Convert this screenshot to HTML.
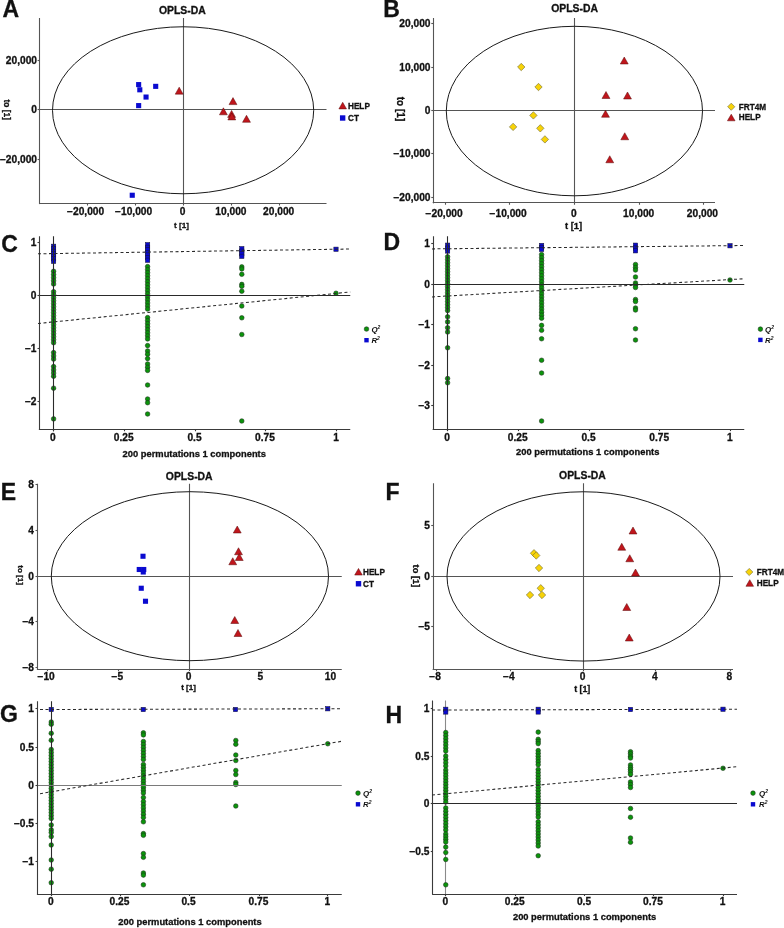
<!DOCTYPE html>
<html><head><meta charset="utf-8"><title>OPLS-DA figure</title>
<style>
html,body{margin:0;padding:0;background:#fff;}
body{width:784px;height:928px;overflow:hidden;}
svg{display:block;will-change:transform;filter:blur(0.3px);}
svg text{font-family:"Liberation Sans", sans-serif;font-weight:bold;fill:#111;stroke:#111;stroke-width:0.3px;}
</style></head><body>
<svg width="784" height="928" viewBox="0 0 784 928">
<rect width="784" height="928" fill="#fff"/>
<line x1="39.50" y1="18.00" x2="39.50" y2="204.10" stroke="#555" stroke-width="1.1"/>
<line x1="39.00" y1="203.50" x2="326.50" y2="203.50" stroke="#555" stroke-width="1.1"/>
<line x1="39.60" y1="109.50" x2="326.50" y2="109.50" stroke="#555" stroke-width="1.1"/>
<line x1="183.50" y1="18.00" x2="183.50" y2="203.50" stroke="#555" stroke-width="1.1"/>
<line x1="37.60" y1="60.50" x2="39.60" y2="60.50" stroke="#555" stroke-width="1.1"/>
<text x="37.00" y="63.65" font-size="10.2" text-anchor="end">20,000</text>
<line x1="37.60" y1="109.50" x2="39.60" y2="109.50" stroke="#555" stroke-width="1.1"/>
<text x="37.00" y="113.15" font-size="10.2" text-anchor="end">0</text>
<line x1="37.60" y1="159.50" x2="39.60" y2="159.50" stroke="#555" stroke-width="1.1"/>
<text x="37.00" y="163.15" font-size="10.2" text-anchor="end">−20,000</text>
<line x1="87.50" y1="203.50" x2="87.50" y2="205.50" stroke="#555" stroke-width="1.1"/>
<text x="85.60" y="215.15" font-size="10.2" text-anchor="middle">−20,000</text>
<line x1="135.50" y1="203.50" x2="135.50" y2="205.50" stroke="#555" stroke-width="1.1"/>
<text x="133.60" y="215.15" font-size="10.2" text-anchor="middle">−10,000</text>
<line x1="183.50" y1="203.50" x2="183.50" y2="205.50" stroke="#555" stroke-width="1.1"/>
<text x="182.70" y="215.15" font-size="10.2" text-anchor="middle">0</text>
<line x1="231.50" y1="203.50" x2="231.50" y2="205.50" stroke="#555" stroke-width="1.1"/>
<text x="230.90" y="215.15" font-size="10.2" text-anchor="middle">10,000</text>
<line x1="279.50" y1="203.50" x2="279.50" y2="205.50" stroke="#555" stroke-width="1.1"/>
<text x="278.70" y="215.15" font-size="10.2" text-anchor="middle">20,000</text>
<ellipse cx="183.1" cy="110.27" rx="130.6" ry="83.5" fill="none" stroke="#1a1a1a" stroke-width="1"/>
<text x="182.30" y="14.27" font-size="10.4" text-anchor="middle">OPLS-DA</text>
<text transform="translate(6.87,109.75) rotate(90)" font-size="8.4" text-anchor="middle" y="3">to [1]</text>
<text x="181.45" y="228.24" font-size="8.1" text-anchor="middle">t [1]</text>
<rect x="136.10" y="82.05" width="5.1" height="5.1" fill="#0a0ad0"/>
<rect x="137.25" y="87.25" width="5.1" height="5.1" fill="#0a0ad0"/>
<rect x="143.50" y="94.50" width="5.1" height="5.1" fill="#0a0ad0"/>
<rect x="153.15" y="83.80" width="5.1" height="5.1" fill="#0a0ad0"/>
<rect x="136.10" y="103.05" width="5.1" height="5.1" fill="#0a0ad0"/>
<rect x="129.70" y="192.70" width="5.1" height="5.1" fill="#0a0ad0"/>
<polygon points="179.20,87.15 175.25,94.15 183.15,94.15" fill="#c0161c" stroke="#5a0808" stroke-width="0.5"/>
<polygon points="233.00,97.60 229.05,104.60 236.95,104.60" fill="#c0161c" stroke="#5a0808" stroke-width="0.5"/>
<polygon points="223.40,107.80 219.45,114.80 227.35,114.80" fill="#c0161c" stroke="#5a0808" stroke-width="0.5"/>
<polygon points="231.60,110.40 227.65,117.40 235.55,117.40" fill="#c0161c" stroke="#5a0808" stroke-width="0.5"/>
<polygon points="231.80,112.90 227.85,119.90 235.75,119.90" fill="#c0161c" stroke="#5a0808" stroke-width="0.5"/>
<polygon points="246.50,115.30 242.55,122.30 250.45,122.30" fill="#c0161c" stroke="#5a0808" stroke-width="0.5"/>
<polygon points="342.70,102.30 338.90,108.90 346.50,108.90" fill="#c0161c" stroke="#5a0808" stroke-width="0.5"/>
<text x="348.00" y="108.54" font-size="8.2" text-anchor="start">HELP</text>
<rect x="339.95" y="115.30" width="5.4" height="5.4" fill="#0a0ad0"/>
<text x="348.00" y="120.94" font-size="8.2" text-anchor="start">CT</text>
<text x="2.40" y="16.90" font-size="23" text-anchor="start">A</text>
<line x1="433.50" y1="18.00" x2="433.50" y2="203.35" stroke="#555" stroke-width="1.1"/>
<line x1="432.70" y1="202.50" x2="715.00" y2="202.50" stroke="#555" stroke-width="1.1"/>
<line x1="433.30" y1="110.50" x2="715.00" y2="110.50" stroke="#555" stroke-width="1.1"/>
<line x1="574.50" y1="18.00" x2="574.50" y2="202.75" stroke="#555" stroke-width="1.1"/>
<line x1="431.30" y1="23.50" x2="433.30" y2="23.50" stroke="#555" stroke-width="1.1"/>
<text x="430.50" y="27.40" font-size="10.2" text-anchor="end">20,000</text>
<line x1="431.30" y1="67.50" x2="433.30" y2="67.50" stroke="#555" stroke-width="1.1"/>
<text x="430.50" y="70.65" font-size="10.2" text-anchor="end">10,000</text>
<line x1="431.30" y1="110.50" x2="433.30" y2="110.50" stroke="#555" stroke-width="1.1"/>
<text x="430.50" y="114.05" font-size="10.2" text-anchor="end">0</text>
<line x1="431.30" y1="153.50" x2="433.30" y2="153.50" stroke="#555" stroke-width="1.1"/>
<text x="430.50" y="157.40" font-size="10.2" text-anchor="end">−10,000</text>
<line x1="431.30" y1="197.50" x2="433.30" y2="197.50" stroke="#555" stroke-width="1.1"/>
<text x="430.50" y="201.15" font-size="10.2" text-anchor="end">−20,000</text>
<line x1="445.50" y1="202.75" x2="445.50" y2="204.75" stroke="#555" stroke-width="1.1"/>
<text x="444.10" y="217.40" font-size="10.2" text-anchor="middle">−20,000</text>
<line x1="509.50" y1="202.75" x2="509.50" y2="204.75" stroke="#555" stroke-width="1.1"/>
<text x="508.10" y="217.40" font-size="10.2" text-anchor="middle">−10,000</text>
<line x1="574.50" y1="202.75" x2="574.50" y2="204.75" stroke="#555" stroke-width="1.1"/>
<text x="573.80" y="217.40" font-size="10.2" text-anchor="middle">0</text>
<line x1="639.50" y1="202.75" x2="639.50" y2="204.75" stroke="#555" stroke-width="1.1"/>
<text x="638.65" y="217.40" font-size="10.2" text-anchor="middle">10,000</text>
<line x1="703.50" y1="202.75" x2="703.50" y2="204.75" stroke="#555" stroke-width="1.1"/>
<text x="702.40" y="217.40" font-size="10.2" text-anchor="middle">20,000</text>
<ellipse cx="574.4" cy="111.05" rx="128.1" ry="84.75" fill="none" stroke="#1a1a1a" stroke-width="1"/>
<text x="574.60" y="12.02" font-size="10.4" text-anchor="middle">OPLS-DA</text>
<text transform="translate(399.55,109) rotate(90)" font-size="10.0" text-anchor="middle" y="3">to [1]</text>
<text x="573.50" y="228.53" font-size="9.4" text-anchor="middle">t [1]</text>
<polygon points="521.25,63.30 524.95,67.00 521.25,70.70 517.55,67.00" fill="#f7d308" stroke="#6e6a3a" stroke-width="0.6"/>
<polygon points="538.50,83.30 542.20,87.00 538.50,90.70 534.80,87.00" fill="#f7d308" stroke="#6e6a3a" stroke-width="0.6"/>
<polygon points="533.40,111.70 537.10,115.40 533.40,119.10 529.70,115.40" fill="#f7d308" stroke="#6e6a3a" stroke-width="0.6"/>
<polygon points="513.10,123.20 516.80,126.90 513.10,130.60 509.40,126.90" fill="#f7d308" stroke="#6e6a3a" stroke-width="0.6"/>
<polygon points="540.30,124.60 544.00,128.30 540.30,132.00 536.60,128.30" fill="#f7d308" stroke="#6e6a3a" stroke-width="0.6"/>
<polygon points="544.90,135.70 548.60,139.40 544.90,143.10 541.20,139.40" fill="#f7d308" stroke="#6e6a3a" stroke-width="0.6"/>
<polygon points="624.25,57.00 620.30,64.00 628.20,64.00" fill="#c0161c" stroke="#5a0808" stroke-width="0.5"/>
<polygon points="606.00,91.50 602.05,98.50 609.95,98.50" fill="#c0161c" stroke="#5a0808" stroke-width="0.5"/>
<polygon points="627.50,92.00 623.55,99.00 631.45,99.00" fill="#c0161c" stroke="#5a0808" stroke-width="0.5"/>
<polygon points="605.50,110.25 601.55,117.25 609.45,117.25" fill="#c0161c" stroke="#5a0808" stroke-width="0.5"/>
<polygon points="624.75,132.75 620.80,139.75 628.70,139.75" fill="#c0161c" stroke="#5a0808" stroke-width="0.5"/>
<polygon points="609.75,155.75 605.80,162.75 613.70,162.75" fill="#c0161c" stroke="#5a0808" stroke-width="0.5"/>
<polygon points="731.25,103.15 734.85,106.75 731.25,110.35 727.65,106.75" fill="#f7d308" stroke="#6e6a3a" stroke-width="0.6"/>
<text x="738.75" y="109.69" font-size="8.2" text-anchor="start">FRT4M</text>
<polygon points="731.25,114.20 727.45,120.80 735.05,120.80" fill="#c0161c" stroke="#5a0808" stroke-width="0.5"/>
<text x="738.75" y="120.44" font-size="8.2" text-anchor="start">HELP</text>
<text x="383.30" y="16.80" font-size="23" text-anchor="start">B</text>
<line x1="37.50" y1="483.75" x2="37.50" y2="669.60" stroke="#555" stroke-width="1.1"/>
<line x1="36.90" y1="669.50" x2="341.75" y2="669.50" stroke="#555" stroke-width="1.1"/>
<line x1="37.50" y1="576.50" x2="341.75" y2="576.50" stroke="#555" stroke-width="1.1"/>
<line x1="189.50" y1="483.75" x2="189.50" y2="669.00" stroke="#555" stroke-width="1.1"/>
<line x1="35.50" y1="484.50" x2="37.50" y2="484.50" stroke="#555" stroke-width="1.1"/>
<text x="34.00" y="487.90" font-size="10.2" text-anchor="end">8</text>
<line x1="35.50" y1="530.50" x2="37.50" y2="530.50" stroke="#555" stroke-width="1.1"/>
<text x="34.00" y="534.15" font-size="10.2" text-anchor="end">4</text>
<line x1="35.50" y1="576.50" x2="37.50" y2="576.50" stroke="#555" stroke-width="1.1"/>
<text x="34.00" y="579.65" font-size="10.2" text-anchor="end">0</text>
<line x1="35.50" y1="621.50" x2="37.50" y2="621.50" stroke="#555" stroke-width="1.1"/>
<text x="34.00" y="625.40" font-size="10.2" text-anchor="end">−4</text>
<line x1="35.50" y1="667.50" x2="37.50" y2="667.50" stroke="#555" stroke-width="1.1"/>
<text x="34.00" y="671.15" font-size="10.2" text-anchor="end">−8</text>
<line x1="47.50" y1="669.00" x2="47.50" y2="671.00" stroke="#555" stroke-width="1.1"/>
<text x="46.10" y="679.90" font-size="10.2" text-anchor="middle">−10</text>
<line x1="118.50" y1="669.00" x2="118.50" y2="671.00" stroke="#555" stroke-width="1.1"/>
<text x="117.35" y="679.90" font-size="10.2" text-anchor="middle">−5</text>
<line x1="189.50" y1="669.00" x2="189.50" y2="671.00" stroke="#555" stroke-width="1.1"/>
<text x="188.70" y="679.90" font-size="10.2" text-anchor="middle">0</text>
<line x1="261.50" y1="669.00" x2="261.50" y2="671.00" stroke="#555" stroke-width="1.1"/>
<text x="260.40" y="679.90" font-size="10.2" text-anchor="middle">5</text>
<line x1="331.50" y1="669.00" x2="331.50" y2="671.00" stroke="#555" stroke-width="1.1"/>
<text x="330.40" y="679.90" font-size="10.2" text-anchor="middle">10</text>
<ellipse cx="189.9" cy="576.2" rx="138.6" ry="84.5" fill="none" stroke="#1a1a1a" stroke-width="1"/>
<text x="189.25" y="479.62" font-size="10.4" text-anchor="middle">OPLS-DA</text>
<text transform="translate(20.94,575.1) rotate(90)" font-size="8.1" text-anchor="middle" y="3">to [1]</text>
<text x="188.55" y="690.16" font-size="8.0" text-anchor="middle">t [1]</text>
<rect x="140.45" y="553.70" width="5.1" height="5.1" fill="#0a0ad0"/>
<rect x="136.70" y="566.95" width="5.1" height="5.1" fill="#0a0ad0"/>
<rect x="141.20" y="566.95" width="5.1" height="5.1" fill="#0a0ad0"/>
<rect x="140.70" y="569.45" width="5.1" height="5.1" fill="#0a0ad0"/>
<rect x="138.70" y="585.70" width="5.1" height="5.1" fill="#0a0ad0"/>
<rect x="142.95" y="598.70" width="5.1" height="5.1" fill="#0a0ad0"/>
<polygon points="237.25,526.00 233.30,533.00 241.20,533.00" fill="#c0161c" stroke="#5a0808" stroke-width="0.5"/>
<polygon points="238.50,547.75 234.55,554.75 242.45,554.75" fill="#c0161c" stroke="#5a0808" stroke-width="0.5"/>
<polygon points="239.25,553.50 235.30,560.50 243.20,560.50" fill="#c0161c" stroke="#5a0808" stroke-width="0.5"/>
<polygon points="232.75,557.75 228.80,564.75 236.70,564.75" fill="#c0161c" stroke="#5a0808" stroke-width="0.5"/>
<polygon points="234.75,616.50 230.80,623.50 238.70,623.50" fill="#c0161c" stroke="#5a0808" stroke-width="0.5"/>
<polygon points="238.00,629.50 234.05,636.50 241.95,636.50" fill="#c0161c" stroke="#5a0808" stroke-width="0.5"/>
<polygon points="358.50,568.45 354.70,575.05 362.30,575.05" fill="#c0161c" stroke="#5a0808" stroke-width="0.5"/>
<text x="363.00" y="574.69" font-size="8.2" text-anchor="start">HELP</text>
<rect x="355.80" y="581.05" width="5.4" height="5.4" fill="#0a0ad0"/>
<text x="363.00" y="586.69" font-size="8.2" text-anchor="start">CT</text>
<text x="0.80" y="500.00" font-size="23" text-anchor="start">E</text>
<line x1="433.50" y1="483.25" x2="433.50" y2="669.85" stroke="#555" stroke-width="1.1"/>
<line x1="432.65" y1="669.50" x2="733.00" y2="669.50" stroke="#555" stroke-width="1.1"/>
<line x1="433.25" y1="576.50" x2="733.00" y2="576.50" stroke="#555" stroke-width="1.1"/>
<line x1="583.50" y1="483.25" x2="583.50" y2="669.25" stroke="#555" stroke-width="1.1"/>
<line x1="431.25" y1="525.50" x2="433.25" y2="525.50" stroke="#555" stroke-width="1.1"/>
<text x="430.00" y="528.65" font-size="10.2" text-anchor="end">5</text>
<line x1="431.25" y1="576.50" x2="433.25" y2="576.50" stroke="#555" stroke-width="1.1"/>
<text x="430.00" y="579.65" font-size="10.2" text-anchor="end">0</text>
<line x1="431.25" y1="626.50" x2="433.25" y2="626.50" stroke="#555" stroke-width="1.1"/>
<text x="430.00" y="630.40" font-size="10.2" text-anchor="end">−5</text>
<line x1="436.50" y1="669.25" x2="436.50" y2="671.25" stroke="#555" stroke-width="1.1"/>
<text x="435.10" y="679.90" font-size="10.2" text-anchor="middle">−8</text>
<line x1="510.50" y1="669.25" x2="510.50" y2="671.25" stroke="#555" stroke-width="1.1"/>
<text x="508.85" y="679.90" font-size="10.2" text-anchor="middle">−4</text>
<line x1="583.50" y1="669.25" x2="583.50" y2="671.25" stroke="#555" stroke-width="1.1"/>
<text x="582.65" y="679.90" font-size="10.2" text-anchor="middle">0</text>
<line x1="655.50" y1="669.25" x2="655.50" y2="671.25" stroke="#555" stroke-width="1.1"/>
<text x="654.90" y="679.90" font-size="10.2" text-anchor="middle">4</text>
<line x1="730.50" y1="669.25" x2="730.50" y2="671.25" stroke="#555" stroke-width="1.1"/>
<text x="729.40" y="679.90" font-size="10.2" text-anchor="middle">8</text>
<ellipse cx="583.5" cy="576.4" rx="136.5" ry="84.65" fill="none" stroke="#1a1a1a" stroke-width="1"/>
<text x="582.50" y="479.12" font-size="10.4" text-anchor="middle">OPLS-DA</text>
<text transform="translate(415.93,575.9) rotate(90)" font-size="9.3" text-anchor="middle" y="3">to [1]</text>
<text x="582.20" y="691.77" font-size="8.8" text-anchor="middle">t [1]</text>
<polygon points="534.00,549.55 537.70,553.25 534.00,556.95 530.30,553.25" fill="#f7d308" stroke="#6e6a3a" stroke-width="0.6"/>
<polygon points="536.25,551.80 539.95,555.50 536.25,559.20 532.55,555.50" fill="#f7d308" stroke="#6e6a3a" stroke-width="0.6"/>
<polygon points="539.00,564.30 542.70,568.00 539.00,571.70 535.30,568.00" fill="#f7d308" stroke="#6e6a3a" stroke-width="0.6"/>
<polygon points="540.75,584.55 544.45,588.25 540.75,591.95 537.05,588.25" fill="#f7d308" stroke="#6e6a3a" stroke-width="0.6"/>
<polygon points="530.00,591.30 533.70,595.00 530.00,598.70 526.30,595.00" fill="#f7d308" stroke="#6e6a3a" stroke-width="0.6"/>
<polygon points="542.00,591.30 545.70,595.00 542.00,598.70 538.30,595.00" fill="#f7d308" stroke="#6e6a3a" stroke-width="0.6"/>
<polygon points="633.00,527.00 629.05,534.00 636.95,534.00" fill="#c0161c" stroke="#5a0808" stroke-width="0.5"/>
<polygon points="621.75,543.25 617.80,550.25 625.70,550.25" fill="#c0161c" stroke="#5a0808" stroke-width="0.5"/>
<polygon points="629.75,554.75 625.80,561.75 633.70,561.75" fill="#c0161c" stroke="#5a0808" stroke-width="0.5"/>
<polygon points="635.50,569.00 631.55,576.00 639.45,576.00" fill="#c0161c" stroke="#5a0808" stroke-width="0.5"/>
<polygon points="626.75,603.50 622.80,610.50 630.70,610.50" fill="#c0161c" stroke="#5a0808" stroke-width="0.5"/>
<polygon points="629.25,634.00 625.30,641.00 633.20,641.00" fill="#c0161c" stroke="#5a0808" stroke-width="0.5"/>
<polygon points="749.25,568.40 752.85,572.00 749.25,575.60 745.65,572.00" fill="#f7d308" stroke="#6e6a3a" stroke-width="0.6"/>
<text x="756.75" y="574.94" font-size="8.2" text-anchor="start">FRT4M</text>
<polygon points="749.75,579.70 745.95,586.30 753.55,586.30" fill="#c0161c" stroke="#5a0808" stroke-width="0.5"/>
<text x="756.75" y="585.94" font-size="8.2" text-anchor="start">HELP</text>
<text x="385.40" y="500.00" font-size="23" text-anchor="start">F</text>
<circle cx="53.60" cy="271.30" r="2.3" fill="#0b940b" stroke="#1e2e1e" stroke-width="0.55"/>
<circle cx="53.60" cy="274.48" r="2.3" fill="#0b940b" stroke="#1e2e1e" stroke-width="0.55"/>
<circle cx="53.60" cy="277.65" r="2.3" fill="#0b940b" stroke="#1e2e1e" stroke-width="0.55"/>
<circle cx="53.60" cy="280.82" r="2.3" fill="#0b940b" stroke="#1e2e1e" stroke-width="0.55"/>
<circle cx="53.60" cy="284.00" r="2.3" fill="#0b940b" stroke="#1e2e1e" stroke-width="0.55"/>
<circle cx="53.60" cy="291.70" r="2.3" fill="#0b940b" stroke="#1e2e1e" stroke-width="0.55"/>
<circle cx="53.60" cy="294.70" r="2.3" fill="#0b940b" stroke="#1e2e1e" stroke-width="0.55"/>
<circle cx="53.60" cy="297.70" r="2.3" fill="#0b940b" stroke="#1e2e1e" stroke-width="0.55"/>
<circle cx="53.60" cy="300.70" r="2.3" fill="#0b940b" stroke="#1e2e1e" stroke-width="0.55"/>
<circle cx="53.60" cy="303.70" r="2.3" fill="#0b940b" stroke="#1e2e1e" stroke-width="0.55"/>
<circle cx="53.60" cy="306.70" r="2.3" fill="#0b940b" stroke="#1e2e1e" stroke-width="0.55"/>
<circle cx="53.60" cy="309.70" r="2.3" fill="#0b940b" stroke="#1e2e1e" stroke-width="0.55"/>
<circle cx="53.60" cy="312.70" r="2.3" fill="#0b940b" stroke="#1e2e1e" stroke-width="0.55"/>
<circle cx="53.60" cy="315.70" r="2.3" fill="#0b940b" stroke="#1e2e1e" stroke-width="0.55"/>
<circle cx="53.60" cy="318.70" r="2.3" fill="#0b940b" stroke="#1e2e1e" stroke-width="0.55"/>
<circle cx="53.60" cy="321.70" r="2.3" fill="#0b940b" stroke="#1e2e1e" stroke-width="0.55"/>
<circle cx="53.60" cy="324.70" r="2.3" fill="#0b940b" stroke="#1e2e1e" stroke-width="0.55"/>
<circle cx="53.60" cy="327.70" r="2.3" fill="#0b940b" stroke="#1e2e1e" stroke-width="0.55"/>
<circle cx="53.60" cy="330.70" r="2.3" fill="#0b940b" stroke="#1e2e1e" stroke-width="0.55"/>
<circle cx="53.60" cy="333.70" r="2.3" fill="#0b940b" stroke="#1e2e1e" stroke-width="0.55"/>
<circle cx="53.60" cy="336.70" r="2.3" fill="#0b940b" stroke="#1e2e1e" stroke-width="0.55"/>
<circle cx="53.60" cy="339.70" r="2.3" fill="#0b940b" stroke="#1e2e1e" stroke-width="0.55"/>
<circle cx="53.60" cy="342.70" r="2.3" fill="#0b940b" stroke="#1e2e1e" stroke-width="0.55"/>
<circle cx="53.60" cy="352.60" r="2.3" fill="#0b940b" stroke="#1e2e1e" stroke-width="0.55"/>
<circle cx="53.60" cy="355.90" r="2.3" fill="#0b940b" stroke="#1e2e1e" stroke-width="0.55"/>
<circle cx="53.60" cy="359.10" r="2.3" fill="#0b940b" stroke="#1e2e1e" stroke-width="0.55"/>
<circle cx="53.60" cy="366.60" r="2.3" fill="#0b940b" stroke="#1e2e1e" stroke-width="0.55"/>
<circle cx="53.60" cy="369.90" r="2.3" fill="#0b940b" stroke="#1e2e1e" stroke-width="0.55"/>
<circle cx="53.60" cy="373.10" r="2.3" fill="#0b940b" stroke="#1e2e1e" stroke-width="0.55"/>
<circle cx="53.60" cy="376.30" r="2.3" fill="#0b940b" stroke="#1e2e1e" stroke-width="0.55"/>
<circle cx="53.60" cy="388.20" r="2.3" fill="#0b940b" stroke="#1e2e1e" stroke-width="0.55"/>
<circle cx="53.60" cy="418.90" r="2.3" fill="#0b940b" stroke="#1e2e1e" stroke-width="0.55"/>
<circle cx="147.60" cy="266.60" r="2.3" fill="#0b940b" stroke="#1e2e1e" stroke-width="0.55"/>
<circle cx="147.60" cy="269.63" r="2.3" fill="#0b940b" stroke="#1e2e1e" stroke-width="0.55"/>
<circle cx="147.60" cy="272.66" r="2.3" fill="#0b940b" stroke="#1e2e1e" stroke-width="0.55"/>
<circle cx="147.60" cy="275.69" r="2.3" fill="#0b940b" stroke="#1e2e1e" stroke-width="0.55"/>
<circle cx="147.60" cy="278.71" r="2.3" fill="#0b940b" stroke="#1e2e1e" stroke-width="0.55"/>
<circle cx="147.60" cy="281.74" r="2.3" fill="#0b940b" stroke="#1e2e1e" stroke-width="0.55"/>
<circle cx="147.60" cy="284.77" r="2.3" fill="#0b940b" stroke="#1e2e1e" stroke-width="0.55"/>
<circle cx="147.60" cy="287.80" r="2.3" fill="#0b940b" stroke="#1e2e1e" stroke-width="0.55"/>
<circle cx="147.60" cy="290.83" r="2.3" fill="#0b940b" stroke="#1e2e1e" stroke-width="0.55"/>
<circle cx="147.60" cy="293.86" r="2.3" fill="#0b940b" stroke="#1e2e1e" stroke-width="0.55"/>
<circle cx="147.60" cy="296.89" r="2.3" fill="#0b940b" stroke="#1e2e1e" stroke-width="0.55"/>
<circle cx="147.60" cy="299.91" r="2.3" fill="#0b940b" stroke="#1e2e1e" stroke-width="0.55"/>
<circle cx="147.60" cy="302.94" r="2.3" fill="#0b940b" stroke="#1e2e1e" stroke-width="0.55"/>
<circle cx="147.60" cy="305.97" r="2.3" fill="#0b940b" stroke="#1e2e1e" stroke-width="0.55"/>
<circle cx="147.60" cy="309.00" r="2.3" fill="#0b940b" stroke="#1e2e1e" stroke-width="0.55"/>
<circle cx="147.60" cy="317.60" r="2.3" fill="#0b940b" stroke="#1e2e1e" stroke-width="0.55"/>
<circle cx="147.60" cy="320.64" r="2.3" fill="#0b940b" stroke="#1e2e1e" stroke-width="0.55"/>
<circle cx="147.60" cy="323.69" r="2.3" fill="#0b940b" stroke="#1e2e1e" stroke-width="0.55"/>
<circle cx="147.60" cy="326.73" r="2.3" fill="#0b940b" stroke="#1e2e1e" stroke-width="0.55"/>
<circle cx="147.60" cy="329.77" r="2.3" fill="#0b940b" stroke="#1e2e1e" stroke-width="0.55"/>
<circle cx="147.60" cy="332.81" r="2.3" fill="#0b940b" stroke="#1e2e1e" stroke-width="0.55"/>
<circle cx="147.60" cy="335.86" r="2.3" fill="#0b940b" stroke="#1e2e1e" stroke-width="0.55"/>
<circle cx="147.60" cy="338.90" r="2.3" fill="#0b940b" stroke="#1e2e1e" stroke-width="0.55"/>
<circle cx="147.60" cy="345.60" r="2.3" fill="#0b940b" stroke="#1e2e1e" stroke-width="0.55"/>
<circle cx="147.60" cy="351.00" r="2.3" fill="#0b940b" stroke="#1e2e1e" stroke-width="0.55"/>
<circle cx="147.60" cy="354.20" r="2.3" fill="#0b940b" stroke="#1e2e1e" stroke-width="0.55"/>
<circle cx="147.60" cy="358.60" r="2.3" fill="#0b940b" stroke="#1e2e1e" stroke-width="0.55"/>
<circle cx="147.60" cy="364.00" r="2.3" fill="#0b940b" stroke="#1e2e1e" stroke-width="0.55"/>
<circle cx="147.60" cy="367.20" r="2.3" fill="#0b940b" stroke="#1e2e1e" stroke-width="0.55"/>
<circle cx="147.60" cy="370.40" r="2.3" fill="#0b940b" stroke="#1e2e1e" stroke-width="0.55"/>
<circle cx="147.60" cy="385.00" r="2.3" fill="#0b940b" stroke="#1e2e1e" stroke-width="0.55"/>
<circle cx="147.60" cy="399.00" r="2.3" fill="#0b940b" stroke="#1e2e1e" stroke-width="0.55"/>
<circle cx="147.60" cy="402.70" r="2.3" fill="#0b940b" stroke="#1e2e1e" stroke-width="0.55"/>
<circle cx="147.60" cy="414.00" r="2.3" fill="#0b940b" stroke="#1e2e1e" stroke-width="0.55"/>
<circle cx="241.80" cy="266.90" r="2.3" fill="#0b940b" stroke="#1e2e1e" stroke-width="0.55"/>
<circle cx="241.80" cy="268.90" r="2.3" fill="#0b940b" stroke="#1e2e1e" stroke-width="0.55"/>
<circle cx="241.80" cy="274.30" r="2.3" fill="#0b940b" stroke="#1e2e1e" stroke-width="0.55"/>
<circle cx="241.80" cy="284.40" r="2.3" fill="#0b940b" stroke="#1e2e1e" stroke-width="0.55"/>
<circle cx="241.80" cy="286.30" r="2.3" fill="#0b940b" stroke="#1e2e1e" stroke-width="0.55"/>
<circle cx="241.80" cy="291.20" r="2.3" fill="#0b940b" stroke="#1e2e1e" stroke-width="0.55"/>
<circle cx="241.80" cy="306.00" r="2.3" fill="#0b940b" stroke="#1e2e1e" stroke-width="0.55"/>
<circle cx="241.80" cy="317.80" r="2.3" fill="#0b940b" stroke="#1e2e1e" stroke-width="0.55"/>
<circle cx="241.80" cy="334.50" r="2.3" fill="#0b940b" stroke="#1e2e1e" stroke-width="0.55"/>
<circle cx="241.80" cy="421.00" r="2.3" fill="#0b940b" stroke="#1e2e1e" stroke-width="0.55"/>
<circle cx="336.00" cy="293.25" r="2.3" fill="#0b940b" stroke="#1e2e1e" stroke-width="0.55"/>
<rect x="51.45" y="244.15" width="4.3" height="4.3" fill="#0a0ad0" stroke="#14143c" stroke-width="0.55"/>
<rect x="51.45" y="246.65" width="4.3" height="4.3" fill="#0a0ad0" stroke="#14143c" stroke-width="0.55"/>
<rect x="51.45" y="249.15" width="4.3" height="4.3" fill="#0a0ad0" stroke="#14143c" stroke-width="0.55"/>
<rect x="51.45" y="251.65" width="4.3" height="4.3" fill="#0a0ad0" stroke="#14143c" stroke-width="0.55"/>
<rect x="51.45" y="254.15" width="4.3" height="4.3" fill="#0a0ad0" stroke="#14143c" stroke-width="0.55"/>
<rect x="51.45" y="256.65" width="4.3" height="4.3" fill="#0a0ad0" stroke="#14143c" stroke-width="0.55"/>
<rect x="51.45" y="259.15" width="4.3" height="4.3" fill="#0a0ad0" stroke="#14143c" stroke-width="0.55"/>
<rect x="145.45" y="242.55" width="4.3" height="4.3" fill="#0a0ad0" stroke="#14143c" stroke-width="0.55"/>
<rect x="145.45" y="245.13" width="4.3" height="4.3" fill="#0a0ad0" stroke="#14143c" stroke-width="0.55"/>
<rect x="145.45" y="247.72" width="4.3" height="4.3" fill="#0a0ad0" stroke="#14143c" stroke-width="0.55"/>
<rect x="145.45" y="250.30" width="4.3" height="4.3" fill="#0a0ad0" stroke="#14143c" stroke-width="0.55"/>
<rect x="145.45" y="252.88" width="4.3" height="4.3" fill="#0a0ad0" stroke="#14143c" stroke-width="0.55"/>
<rect x="145.45" y="255.47" width="4.3" height="4.3" fill="#0a0ad0" stroke="#14143c" stroke-width="0.55"/>
<rect x="145.45" y="258.05" width="4.3" height="4.3" fill="#0a0ad0" stroke="#14143c" stroke-width="0.55"/>
<rect x="239.65" y="246.55" width="4.3" height="4.3" fill="#0a0ad0" stroke="#14143c" stroke-width="0.55"/>
<rect x="239.65" y="249.08" width="4.3" height="4.3" fill="#0a0ad0" stroke="#14143c" stroke-width="0.55"/>
<rect x="239.65" y="251.62" width="4.3" height="4.3" fill="#0a0ad0" stroke="#14143c" stroke-width="0.55"/>
<rect x="239.65" y="254.15" width="4.3" height="4.3" fill="#0a0ad0" stroke="#14143c" stroke-width="0.55"/>
<rect x="333.85" y="247.10" width="4.3" height="4.3" fill="#0a0ad0" stroke="#14143c" stroke-width="0.55"/>
<line x1="53.50" y1="236.25" x2="53.50" y2="431.25" stroke="#2a2a2a" stroke-width="1.1"/>
<line x1="39.50" y1="295.50" x2="350.25" y2="295.50" stroke="#2a2a2a" stroke-width="1.1"/>
<line x1="39.50" y1="236.25" x2="39.50" y2="429.85" stroke="#3a3a3a" stroke-width="1.1"/>
<line x1="38.90" y1="429.50" x2="350.25" y2="429.50" stroke="#3a3a3a" stroke-width="1.1"/>
<line x1="37.50" y1="242.50" x2="39.50" y2="242.50" stroke="#3a3a3a" stroke-width="1.1"/>
<text x="36.50" y="246.15" font-size="10.2" text-anchor="end">1</text>
<line x1="37.50" y1="295.50" x2="39.50" y2="295.50" stroke="#3a3a3a" stroke-width="1.1"/>
<text x="36.50" y="299.25" font-size="10.2" text-anchor="end">0</text>
<line x1="37.50" y1="348.50" x2="39.50" y2="348.50" stroke="#3a3a3a" stroke-width="1.1"/>
<text x="36.50" y="352.15" font-size="10.2" text-anchor="end">−1</text>
<line x1="37.50" y1="401.50" x2="39.50" y2="401.50" stroke="#3a3a3a" stroke-width="1.1"/>
<text x="36.50" y="405.40" font-size="10.2" text-anchor="end">−2</text>
<line x1="53.50" y1="429.25" x2="53.50" y2="431.25" stroke="#3a3a3a" stroke-width="1.1"/>
<text x="52.75" y="440.90" font-size="10.2" text-anchor="middle">0</text>
<line x1="124.50" y1="429.25" x2="124.50" y2="431.25" stroke="#3a3a3a" stroke-width="1.1"/>
<text x="123.75" y="440.90" font-size="10.2" text-anchor="middle">0.25</text>
<line x1="195.50" y1="429.25" x2="195.50" y2="431.25" stroke="#3a3a3a" stroke-width="1.1"/>
<text x="194.50" y="440.90" font-size="10.2" text-anchor="middle">0.5</text>
<line x1="265.50" y1="429.25" x2="265.50" y2="431.25" stroke="#3a3a3a" stroke-width="1.1"/>
<text x="265.00" y="440.90" font-size="10.2" text-anchor="middle">0.75</text>
<line x1="336.50" y1="429.25" x2="336.50" y2="431.25" stroke="#3a3a3a" stroke-width="1.1"/>
<text x="336.00" y="440.90" font-size="10.2" text-anchor="middle">1</text>
<text x="194.25" y="457.35" font-size="9.35" text-anchor="middle">200 permutations 1 components</text>
<line x1="38.00" y1="253.80" x2="350.25" y2="249.00" stroke="#2a2a2a" stroke-width="1.05" stroke-dasharray="3.0,2.5"/>
<line x1="38.00" y1="323.50" x2="350.25" y2="292.00" stroke="#2a2a2a" stroke-width="1.05" stroke-dasharray="3.0,2.5"/>
<circle cx="366.50" cy="329.05" r="2.3" fill="#0b940b" stroke="#1e2e1e" stroke-width="0.55"/>
<rect x="364.30" y="338.00" width="4.4" height="4.4" fill="#0a0ad0"/>
<text x="371.40" y="331.88" font-size="7.9" text-anchor="start" style="font-style:italic;stroke-width:0">Q<tspan font-size="5" dy="-2.9" style="stroke-width:0">2</tspan></text>
<text x="371.40" y="343.03" font-size="7.9" text-anchor="start" style="font-style:italic;stroke-width:0">R<tspan font-size="5" dy="-2.9" style="stroke-width:0">2</tspan></text>
<text x="1.20" y="251.60" font-size="23" text-anchor="start">C</text>
<circle cx="447.60" cy="256.70" r="2.3" fill="#0b940b" stroke="#1e2e1e" stroke-width="0.55"/>
<circle cx="447.60" cy="259.69" r="2.3" fill="#0b940b" stroke="#1e2e1e" stroke-width="0.55"/>
<circle cx="447.60" cy="262.69" r="2.3" fill="#0b940b" stroke="#1e2e1e" stroke-width="0.55"/>
<circle cx="447.60" cy="265.68" r="2.3" fill="#0b940b" stroke="#1e2e1e" stroke-width="0.55"/>
<circle cx="447.60" cy="268.68" r="2.3" fill="#0b940b" stroke="#1e2e1e" stroke-width="0.55"/>
<circle cx="447.60" cy="271.67" r="2.3" fill="#0b940b" stroke="#1e2e1e" stroke-width="0.55"/>
<circle cx="447.60" cy="274.67" r="2.3" fill="#0b940b" stroke="#1e2e1e" stroke-width="0.55"/>
<circle cx="447.60" cy="277.66" r="2.3" fill="#0b940b" stroke="#1e2e1e" stroke-width="0.55"/>
<circle cx="447.60" cy="280.66" r="2.3" fill="#0b940b" stroke="#1e2e1e" stroke-width="0.55"/>
<circle cx="447.60" cy="283.65" r="2.3" fill="#0b940b" stroke="#1e2e1e" stroke-width="0.55"/>
<circle cx="447.60" cy="286.64" r="2.3" fill="#0b940b" stroke="#1e2e1e" stroke-width="0.55"/>
<circle cx="447.60" cy="289.64" r="2.3" fill="#0b940b" stroke="#1e2e1e" stroke-width="0.55"/>
<circle cx="447.60" cy="292.63" r="2.3" fill="#0b940b" stroke="#1e2e1e" stroke-width="0.55"/>
<circle cx="447.60" cy="295.63" r="2.3" fill="#0b940b" stroke="#1e2e1e" stroke-width="0.55"/>
<circle cx="447.60" cy="298.62" r="2.3" fill="#0b940b" stroke="#1e2e1e" stroke-width="0.55"/>
<circle cx="447.60" cy="301.62" r="2.3" fill="#0b940b" stroke="#1e2e1e" stroke-width="0.55"/>
<circle cx="447.60" cy="304.61" r="2.3" fill="#0b940b" stroke="#1e2e1e" stroke-width="0.55"/>
<circle cx="447.60" cy="307.61" r="2.3" fill="#0b940b" stroke="#1e2e1e" stroke-width="0.55"/>
<circle cx="447.60" cy="310.60" r="2.3" fill="#0b940b" stroke="#1e2e1e" stroke-width="0.55"/>
<circle cx="447.60" cy="316.80" r="2.3" fill="#0b940b" stroke="#1e2e1e" stroke-width="0.55"/>
<circle cx="447.60" cy="321.90" r="2.3" fill="#0b940b" stroke="#1e2e1e" stroke-width="0.55"/>
<circle cx="447.60" cy="327.70" r="2.3" fill="#0b940b" stroke="#1e2e1e" stroke-width="0.55"/>
<circle cx="447.60" cy="332.00" r="2.3" fill="#0b940b" stroke="#1e2e1e" stroke-width="0.55"/>
<circle cx="447.60" cy="347.75" r="2.3" fill="#0b940b" stroke="#1e2e1e" stroke-width="0.55"/>
<circle cx="447.60" cy="378.50" r="2.3" fill="#0b940b" stroke="#1e2e1e" stroke-width="0.55"/>
<circle cx="447.60" cy="382.75" r="2.3" fill="#0b940b" stroke="#1e2e1e" stroke-width="0.55"/>
<circle cx="541.60" cy="254.60" r="2.3" fill="#0b940b" stroke="#1e2e1e" stroke-width="0.55"/>
<circle cx="541.60" cy="257.63" r="2.3" fill="#0b940b" stroke="#1e2e1e" stroke-width="0.55"/>
<circle cx="541.60" cy="260.66" r="2.3" fill="#0b940b" stroke="#1e2e1e" stroke-width="0.55"/>
<circle cx="541.60" cy="263.69" r="2.3" fill="#0b940b" stroke="#1e2e1e" stroke-width="0.55"/>
<circle cx="541.60" cy="266.71" r="2.3" fill="#0b940b" stroke="#1e2e1e" stroke-width="0.55"/>
<circle cx="541.60" cy="269.74" r="2.3" fill="#0b940b" stroke="#1e2e1e" stroke-width="0.55"/>
<circle cx="541.60" cy="272.77" r="2.3" fill="#0b940b" stroke="#1e2e1e" stroke-width="0.55"/>
<circle cx="541.60" cy="275.80" r="2.3" fill="#0b940b" stroke="#1e2e1e" stroke-width="0.55"/>
<circle cx="541.60" cy="278.83" r="2.3" fill="#0b940b" stroke="#1e2e1e" stroke-width="0.55"/>
<circle cx="541.60" cy="281.86" r="2.3" fill="#0b940b" stroke="#1e2e1e" stroke-width="0.55"/>
<circle cx="541.60" cy="284.89" r="2.3" fill="#0b940b" stroke="#1e2e1e" stroke-width="0.55"/>
<circle cx="541.60" cy="287.91" r="2.3" fill="#0b940b" stroke="#1e2e1e" stroke-width="0.55"/>
<circle cx="541.60" cy="290.94" r="2.3" fill="#0b940b" stroke="#1e2e1e" stroke-width="0.55"/>
<circle cx="541.60" cy="293.97" r="2.3" fill="#0b940b" stroke="#1e2e1e" stroke-width="0.55"/>
<circle cx="541.60" cy="297.00" r="2.3" fill="#0b940b" stroke="#1e2e1e" stroke-width="0.55"/>
<circle cx="541.60" cy="300.03" r="2.3" fill="#0b940b" stroke="#1e2e1e" stroke-width="0.55"/>
<circle cx="541.60" cy="303.06" r="2.3" fill="#0b940b" stroke="#1e2e1e" stroke-width="0.55"/>
<circle cx="541.60" cy="306.09" r="2.3" fill="#0b940b" stroke="#1e2e1e" stroke-width="0.55"/>
<circle cx="541.60" cy="309.11" r="2.3" fill="#0b940b" stroke="#1e2e1e" stroke-width="0.55"/>
<circle cx="541.60" cy="312.14" r="2.3" fill="#0b940b" stroke="#1e2e1e" stroke-width="0.55"/>
<circle cx="541.60" cy="315.17" r="2.3" fill="#0b940b" stroke="#1e2e1e" stroke-width="0.55"/>
<circle cx="541.60" cy="318.20" r="2.3" fill="#0b940b" stroke="#1e2e1e" stroke-width="0.55"/>
<circle cx="541.60" cy="325.40" r="2.3" fill="#0b940b" stroke="#1e2e1e" stroke-width="0.55"/>
<circle cx="541.60" cy="330.30" r="2.3" fill="#0b940b" stroke="#1e2e1e" stroke-width="0.55"/>
<circle cx="541.60" cy="338.75" r="2.3" fill="#0b940b" stroke="#1e2e1e" stroke-width="0.55"/>
<circle cx="541.60" cy="360.25" r="2.3" fill="#0b940b" stroke="#1e2e1e" stroke-width="0.55"/>
<circle cx="541.60" cy="373.00" r="2.3" fill="#0b940b" stroke="#1e2e1e" stroke-width="0.55"/>
<circle cx="541.60" cy="421.00" r="2.3" fill="#0b940b" stroke="#1e2e1e" stroke-width="0.55"/>
<circle cx="635.50" cy="264.50" r="2.3" fill="#0b940b" stroke="#1e2e1e" stroke-width="0.55"/>
<circle cx="635.50" cy="267.50" r="2.3" fill="#0b940b" stroke="#1e2e1e" stroke-width="0.55"/>
<circle cx="635.50" cy="270.00" r="2.3" fill="#0b940b" stroke="#1e2e1e" stroke-width="0.55"/>
<circle cx="635.50" cy="277.00" r="2.3" fill="#0b940b" stroke="#1e2e1e" stroke-width="0.55"/>
<circle cx="635.50" cy="283.00" r="2.3" fill="#0b940b" stroke="#1e2e1e" stroke-width="0.55"/>
<circle cx="635.50" cy="285.00" r="2.3" fill="#0b940b" stroke="#1e2e1e" stroke-width="0.55"/>
<circle cx="635.50" cy="287.50" r="2.3" fill="#0b940b" stroke="#1e2e1e" stroke-width="0.55"/>
<circle cx="635.50" cy="299.50" r="2.3" fill="#0b940b" stroke="#1e2e1e" stroke-width="0.55"/>
<circle cx="635.50" cy="301.50" r="2.3" fill="#0b940b" stroke="#1e2e1e" stroke-width="0.55"/>
<circle cx="635.50" cy="308.00" r="2.3" fill="#0b940b" stroke="#1e2e1e" stroke-width="0.55"/>
<circle cx="635.50" cy="310.00" r="2.3" fill="#0b940b" stroke="#1e2e1e" stroke-width="0.55"/>
<circle cx="635.50" cy="328.75" r="2.3" fill="#0b940b" stroke="#1e2e1e" stroke-width="0.55"/>
<circle cx="635.50" cy="340.00" r="2.3" fill="#0b940b" stroke="#1e2e1e" stroke-width="0.55"/>
<circle cx="730.00" cy="280.00" r="2.3" fill="#0b940b" stroke="#1e2e1e" stroke-width="0.55"/>
<rect x="445.45" y="243.05" width="4.3" height="4.3" fill="#0a0ad0" stroke="#14143c" stroke-width="0.55"/>
<rect x="445.45" y="245.95" width="4.3" height="4.3" fill="#0a0ad0" stroke="#14143c" stroke-width="0.55"/>
<rect x="445.45" y="248.85" width="4.3" height="4.3" fill="#0a0ad0" stroke="#14143c" stroke-width="0.55"/>
<rect x="539.45" y="243.35" width="4.3" height="4.3" fill="#0a0ad0" stroke="#14143c" stroke-width="0.55"/>
<rect x="539.45" y="245.30" width="4.3" height="4.3" fill="#0a0ad0" stroke="#14143c" stroke-width="0.55"/>
<rect x="539.45" y="247.25" width="4.3" height="4.3" fill="#0a0ad0" stroke="#14143c" stroke-width="0.55"/>
<rect x="633.35" y="243.05" width="4.3" height="4.3" fill="#0a0ad0" stroke="#14143c" stroke-width="0.55"/>
<rect x="633.35" y="245.85" width="4.3" height="4.3" fill="#0a0ad0" stroke="#14143c" stroke-width="0.55"/>
<rect x="633.35" y="248.65" width="4.3" height="4.3" fill="#0a0ad0" stroke="#14143c" stroke-width="0.55"/>
<rect x="727.85" y="243.60" width="4.3" height="4.3" fill="#0a0ad0" stroke="#14143c" stroke-width="0.55"/>
<line x1="447.50" y1="236.25" x2="447.50" y2="431.10" stroke="#2a2a2a" stroke-width="1.1"/>
<line x1="433.25" y1="284.50" x2="744.25" y2="284.50" stroke="#2a2a2a" stroke-width="1.1"/>
<line x1="433.50" y1="236.25" x2="433.50" y2="429.70" stroke="#3a3a3a" stroke-width="1.1"/>
<line x1="432.65" y1="429.50" x2="744.25" y2="429.50" stroke="#3a3a3a" stroke-width="1.1"/>
<line x1="431.25" y1="243.50" x2="433.25" y2="243.50" stroke="#3a3a3a" stroke-width="1.1"/>
<text x="430.00" y="247.40" font-size="10.2" text-anchor="end">1</text>
<line x1="431.25" y1="284.50" x2="433.25" y2="284.50" stroke="#3a3a3a" stroke-width="1.1"/>
<text x="430.00" y="287.90" font-size="10.2" text-anchor="end">0</text>
<line x1="431.25" y1="324.50" x2="433.25" y2="324.50" stroke="#3a3a3a" stroke-width="1.1"/>
<text x="430.00" y="328.40" font-size="10.2" text-anchor="end">−1</text>
<line x1="431.25" y1="365.50" x2="433.25" y2="365.50" stroke="#3a3a3a" stroke-width="1.1"/>
<text x="430.00" y="368.90" font-size="10.2" text-anchor="end">−2</text>
<line x1="431.25" y1="405.50" x2="433.25" y2="405.50" stroke="#3a3a3a" stroke-width="1.1"/>
<text x="430.00" y="409.40" font-size="10.2" text-anchor="end">−3</text>
<line x1="447.50" y1="429.10" x2="447.50" y2="431.10" stroke="#3a3a3a" stroke-width="1.1"/>
<text x="447.10" y="440.90" font-size="10.2" text-anchor="middle">0</text>
<line x1="518.50" y1="429.10" x2="518.50" y2="431.10" stroke="#3a3a3a" stroke-width="1.1"/>
<text x="517.75" y="440.90" font-size="10.2" text-anchor="middle">0.25</text>
<line x1="589.50" y1="429.10" x2="589.50" y2="431.10" stroke="#3a3a3a" stroke-width="1.1"/>
<text x="588.50" y="440.90" font-size="10.2" text-anchor="middle">0.5</text>
<line x1="659.50" y1="429.10" x2="659.50" y2="431.10" stroke="#3a3a3a" stroke-width="1.1"/>
<text x="659.25" y="440.90" font-size="10.2" text-anchor="middle">0.75</text>
<line x1="730.50" y1="429.10" x2="730.50" y2="431.10" stroke="#3a3a3a" stroke-width="1.1"/>
<text x="729.80" y="440.90" font-size="10.2" text-anchor="middle">1</text>
<text x="587.75" y="454.85" font-size="9.35" text-anchor="middle">200 permutations 1 components</text>
<line x1="432.00" y1="248.90" x2="744.25" y2="245.50" stroke="#2a2a2a" stroke-width="1.05" stroke-dasharray="3.0,2.5"/>
<line x1="432.00" y1="296.90" x2="744.25" y2="278.75" stroke="#2a2a2a" stroke-width="1.05" stroke-dasharray="3.0,2.5"/>
<circle cx="760.40" cy="329.10" r="2.3" fill="#0b940b" stroke="#1e2e1e" stroke-width="0.55"/>
<rect x="758.20" y="337.70" width="4.4" height="4.4" fill="#0a0ad0"/>
<text x="765.00" y="331.93" font-size="7.9" text-anchor="start" style="font-style:italic;stroke-width:0">Q<tspan font-size="5" dy="-2.9" style="stroke-width:0">2</tspan></text>
<text x="765.00" y="342.73" font-size="7.9" text-anchor="start" style="font-style:italic;stroke-width:0">R<tspan font-size="5" dy="-2.9" style="stroke-width:0">2</tspan></text>
<text x="383.50" y="250.30" font-size="23" text-anchor="start">D</text>
<circle cx="51.25" cy="722.00" r="2.3" fill="#0b940b" stroke="#1e2e1e" stroke-width="0.55"/>
<circle cx="51.25" cy="724.20" r="2.3" fill="#0b940b" stroke="#1e2e1e" stroke-width="0.55"/>
<circle cx="51.25" cy="733.30" r="2.3" fill="#0b940b" stroke="#1e2e1e" stroke-width="0.55"/>
<circle cx="51.25" cy="740.30" r="2.3" fill="#0b940b" stroke="#1e2e1e" stroke-width="0.55"/>
<circle cx="51.25" cy="749.50" r="2.3" fill="#0b940b" stroke="#1e2e1e" stroke-width="0.55"/>
<circle cx="51.25" cy="752.50" r="2.3" fill="#0b940b" stroke="#1e2e1e" stroke-width="0.55"/>
<circle cx="51.25" cy="755.50" r="2.3" fill="#0b940b" stroke="#1e2e1e" stroke-width="0.55"/>
<circle cx="51.25" cy="758.50" r="2.3" fill="#0b940b" stroke="#1e2e1e" stroke-width="0.55"/>
<circle cx="51.25" cy="761.50" r="2.3" fill="#0b940b" stroke="#1e2e1e" stroke-width="0.55"/>
<circle cx="51.25" cy="764.50" r="2.3" fill="#0b940b" stroke="#1e2e1e" stroke-width="0.55"/>
<circle cx="51.25" cy="767.50" r="2.3" fill="#0b940b" stroke="#1e2e1e" stroke-width="0.55"/>
<circle cx="51.25" cy="770.50" r="2.3" fill="#0b940b" stroke="#1e2e1e" stroke-width="0.55"/>
<circle cx="51.25" cy="773.50" r="2.3" fill="#0b940b" stroke="#1e2e1e" stroke-width="0.55"/>
<circle cx="51.25" cy="776.50" r="2.3" fill="#0b940b" stroke="#1e2e1e" stroke-width="0.55"/>
<circle cx="51.25" cy="779.50" r="2.3" fill="#0b940b" stroke="#1e2e1e" stroke-width="0.55"/>
<circle cx="51.25" cy="782.50" r="2.3" fill="#0b940b" stroke="#1e2e1e" stroke-width="0.55"/>
<circle cx="51.25" cy="785.50" r="2.3" fill="#0b940b" stroke="#1e2e1e" stroke-width="0.55"/>
<circle cx="51.25" cy="788.50" r="2.3" fill="#0b940b" stroke="#1e2e1e" stroke-width="0.55"/>
<circle cx="51.25" cy="791.50" r="2.3" fill="#0b940b" stroke="#1e2e1e" stroke-width="0.55"/>
<circle cx="51.25" cy="794.50" r="2.3" fill="#0b940b" stroke="#1e2e1e" stroke-width="0.55"/>
<circle cx="51.25" cy="797.50" r="2.3" fill="#0b940b" stroke="#1e2e1e" stroke-width="0.55"/>
<circle cx="51.25" cy="800.50" r="2.3" fill="#0b940b" stroke="#1e2e1e" stroke-width="0.55"/>
<circle cx="51.25" cy="803.50" r="2.3" fill="#0b940b" stroke="#1e2e1e" stroke-width="0.55"/>
<circle cx="51.25" cy="806.50" r="2.3" fill="#0b940b" stroke="#1e2e1e" stroke-width="0.55"/>
<circle cx="51.25" cy="809.50" r="2.3" fill="#0b940b" stroke="#1e2e1e" stroke-width="0.55"/>
<circle cx="51.25" cy="812.50" r="2.3" fill="#0b940b" stroke="#1e2e1e" stroke-width="0.55"/>
<circle cx="51.25" cy="815.50" r="2.3" fill="#0b940b" stroke="#1e2e1e" stroke-width="0.55"/>
<circle cx="51.25" cy="818.50" r="2.3" fill="#0b940b" stroke="#1e2e1e" stroke-width="0.55"/>
<circle cx="51.25" cy="825.00" r="2.3" fill="#0b940b" stroke="#1e2e1e" stroke-width="0.55"/>
<circle cx="51.25" cy="829.90" r="2.3" fill="#0b940b" stroke="#1e2e1e" stroke-width="0.55"/>
<circle cx="51.25" cy="832.60" r="2.3" fill="#0b940b" stroke="#1e2e1e" stroke-width="0.55"/>
<circle cx="51.25" cy="836.60" r="2.3" fill="#0b940b" stroke="#1e2e1e" stroke-width="0.55"/>
<circle cx="51.25" cy="845.00" r="2.3" fill="#0b940b" stroke="#1e2e1e" stroke-width="0.55"/>
<circle cx="51.25" cy="860.00" r="2.3" fill="#0b940b" stroke="#1e2e1e" stroke-width="0.55"/>
<circle cx="51.25" cy="869.20" r="2.3" fill="#0b940b" stroke="#1e2e1e" stroke-width="0.55"/>
<circle cx="51.25" cy="882.70" r="2.3" fill="#0b940b" stroke="#1e2e1e" stroke-width="0.55"/>
<circle cx="143.40" cy="732.80" r="2.3" fill="#0b940b" stroke="#1e2e1e" stroke-width="0.55"/>
<circle cx="143.40" cy="734.90" r="2.3" fill="#0b940b" stroke="#1e2e1e" stroke-width="0.55"/>
<circle cx="143.40" cy="741.50" r="2.3" fill="#0b940b" stroke="#1e2e1e" stroke-width="0.55"/>
<circle cx="143.40" cy="744.50" r="2.3" fill="#0b940b" stroke="#1e2e1e" stroke-width="0.55"/>
<circle cx="143.40" cy="747.50" r="2.3" fill="#0b940b" stroke="#1e2e1e" stroke-width="0.55"/>
<circle cx="143.40" cy="750.50" r="2.3" fill="#0b940b" stroke="#1e2e1e" stroke-width="0.55"/>
<circle cx="143.40" cy="753.50" r="2.3" fill="#0b940b" stroke="#1e2e1e" stroke-width="0.55"/>
<circle cx="143.40" cy="756.50" r="2.3" fill="#0b940b" stroke="#1e2e1e" stroke-width="0.55"/>
<circle cx="143.40" cy="759.50" r="2.3" fill="#0b940b" stroke="#1e2e1e" stroke-width="0.55"/>
<circle cx="143.40" cy="764.50" r="2.3" fill="#0b940b" stroke="#1e2e1e" stroke-width="0.55"/>
<circle cx="143.40" cy="767.35" r="2.3" fill="#0b940b" stroke="#1e2e1e" stroke-width="0.55"/>
<circle cx="143.40" cy="770.20" r="2.3" fill="#0b940b" stroke="#1e2e1e" stroke-width="0.55"/>
<circle cx="143.40" cy="773.05" r="2.3" fill="#0b940b" stroke="#1e2e1e" stroke-width="0.55"/>
<circle cx="143.40" cy="775.90" r="2.3" fill="#0b940b" stroke="#1e2e1e" stroke-width="0.55"/>
<circle cx="143.40" cy="778.75" r="2.3" fill="#0b940b" stroke="#1e2e1e" stroke-width="0.55"/>
<circle cx="143.40" cy="781.60" r="2.3" fill="#0b940b" stroke="#1e2e1e" stroke-width="0.55"/>
<circle cx="143.40" cy="784.45" r="2.3" fill="#0b940b" stroke="#1e2e1e" stroke-width="0.55"/>
<circle cx="143.40" cy="787.30" r="2.3" fill="#0b940b" stroke="#1e2e1e" stroke-width="0.55"/>
<circle cx="143.40" cy="790.15" r="2.3" fill="#0b940b" stroke="#1e2e1e" stroke-width="0.55"/>
<circle cx="143.40" cy="793.00" r="2.3" fill="#0b940b" stroke="#1e2e1e" stroke-width="0.55"/>
<circle cx="143.40" cy="797.50" r="2.3" fill="#0b940b" stroke="#1e2e1e" stroke-width="0.55"/>
<circle cx="143.40" cy="801.50" r="2.3" fill="#0b940b" stroke="#1e2e1e" stroke-width="0.55"/>
<circle cx="143.40" cy="804.70" r="2.3" fill="#0b940b" stroke="#1e2e1e" stroke-width="0.55"/>
<circle cx="143.40" cy="807.90" r="2.3" fill="#0b940b" stroke="#1e2e1e" stroke-width="0.55"/>
<circle cx="143.40" cy="811.10" r="2.3" fill="#0b940b" stroke="#1e2e1e" stroke-width="0.55"/>
<circle cx="143.40" cy="814.30" r="2.3" fill="#0b940b" stroke="#1e2e1e" stroke-width="0.55"/>
<circle cx="143.40" cy="817.50" r="2.3" fill="#0b940b" stroke="#1e2e1e" stroke-width="0.55"/>
<circle cx="143.40" cy="821.80" r="2.3" fill="#0b940b" stroke="#1e2e1e" stroke-width="0.55"/>
<circle cx="143.40" cy="833.60" r="2.3" fill="#0b940b" stroke="#1e2e1e" stroke-width="0.55"/>
<circle cx="143.40" cy="835.30" r="2.3" fill="#0b940b" stroke="#1e2e1e" stroke-width="0.55"/>
<circle cx="143.40" cy="853.60" r="2.3" fill="#0b940b" stroke="#1e2e1e" stroke-width="0.55"/>
<circle cx="143.40" cy="857.30" r="2.3" fill="#0b940b" stroke="#1e2e1e" stroke-width="0.55"/>
<circle cx="143.40" cy="873.00" r="2.3" fill="#0b940b" stroke="#1e2e1e" stroke-width="0.55"/>
<circle cx="143.40" cy="875.10" r="2.3" fill="#0b940b" stroke="#1e2e1e" stroke-width="0.55"/>
<circle cx="143.40" cy="884.80" r="2.3" fill="#0b940b" stroke="#1e2e1e" stroke-width="0.55"/>
<circle cx="235.80" cy="740.50" r="2.3" fill="#0b940b" stroke="#1e2e1e" stroke-width="0.55"/>
<circle cx="235.80" cy="744.25" r="2.3" fill="#0b940b" stroke="#1e2e1e" stroke-width="0.55"/>
<circle cx="235.80" cy="755.00" r="2.3" fill="#0b940b" stroke="#1e2e1e" stroke-width="0.55"/>
<circle cx="235.80" cy="760.50" r="2.3" fill="#0b940b" stroke="#1e2e1e" stroke-width="0.55"/>
<circle cx="235.80" cy="770.50" r="2.3" fill="#0b940b" stroke="#1e2e1e" stroke-width="0.55"/>
<circle cx="235.80" cy="774.50" r="2.3" fill="#0b940b" stroke="#1e2e1e" stroke-width="0.55"/>
<circle cx="235.80" cy="782.50" r="2.3" fill="#0b940b" stroke="#1e2e1e" stroke-width="0.55"/>
<circle cx="235.80" cy="784.50" r="2.3" fill="#0b940b" stroke="#1e2e1e" stroke-width="0.55"/>
<circle cx="235.80" cy="806.00" r="2.3" fill="#0b940b" stroke="#1e2e1e" stroke-width="0.55"/>
<circle cx="327.75" cy="743.75" r="2.3" fill="#0b940b" stroke="#1e2e1e" stroke-width="0.55"/>
<rect x="49.10" y="707.35" width="4.3" height="4.3" fill="#0a0ad0" stroke="#14143c" stroke-width="0.55"/>
<rect x="141.10" y="707.35" width="4.3" height="4.3" fill="#0a0ad0" stroke="#14143c" stroke-width="0.55"/>
<rect x="233.35" y="707.35" width="4.3" height="4.3" fill="#0a0ad0" stroke="#14143c" stroke-width="0.55"/>
<rect x="325.60" y="706.60" width="4.3" height="4.3" fill="#0a0ad0" stroke="#14143c" stroke-width="0.55"/>
<line x1="51.50" y1="701.25" x2="51.50" y2="896.00" stroke="#2a2a2a" stroke-width="1.1"/>
<line x1="37.50" y1="785.50" x2="341.75" y2="785.50" stroke="#7a7a7a" stroke-width="1.1"/>
<line x1="37.50" y1="701.25" x2="37.50" y2="894.60" stroke="#3a3a3a" stroke-width="1.1"/>
<line x1="36.90" y1="894.50" x2="341.75" y2="894.50" stroke="#3a3a3a" stroke-width="1.1"/>
<line x1="35.50" y1="708.50" x2="37.50" y2="708.50" stroke="#3a3a3a" stroke-width="1.1"/>
<text x="34.00" y="712.40" font-size="10.2" text-anchor="end">1</text>
<line x1="35.50" y1="747.50" x2="37.50" y2="747.50" stroke="#3a3a3a" stroke-width="1.1"/>
<text x="34.00" y="750.65" font-size="10.2" text-anchor="end">0.5</text>
<line x1="35.50" y1="785.50" x2="37.50" y2="785.50" stroke="#3a3a3a" stroke-width="1.1"/>
<text x="34.00" y="788.85" font-size="10.2" text-anchor="end">0</text>
<line x1="35.50" y1="823.50" x2="37.50" y2="823.50" stroke="#3a3a3a" stroke-width="1.1"/>
<text x="34.00" y="827.15" font-size="10.2" text-anchor="end">−0.5</text>
<line x1="35.50" y1="861.50" x2="37.50" y2="861.50" stroke="#3a3a3a" stroke-width="1.1"/>
<text x="34.00" y="865.15" font-size="10.2" text-anchor="end">−1</text>
<line x1="51.50" y1="894.00" x2="51.50" y2="896.00" stroke="#3a3a3a" stroke-width="1.1"/>
<text x="50.75" y="905.40" font-size="10.2" text-anchor="middle">0</text>
<line x1="120.50" y1="894.00" x2="120.50" y2="896.00" stroke="#3a3a3a" stroke-width="1.1"/>
<text x="119.50" y="905.40" font-size="10.2" text-anchor="middle">0.25</text>
<line x1="189.50" y1="894.00" x2="189.50" y2="896.00" stroke="#3a3a3a" stroke-width="1.1"/>
<text x="188.50" y="905.40" font-size="10.2" text-anchor="middle">0.5</text>
<line x1="259.50" y1="894.00" x2="259.50" y2="896.00" stroke="#3a3a3a" stroke-width="1.1"/>
<text x="258.50" y="905.40" font-size="10.2" text-anchor="middle">0.75</text>
<line x1="327.50" y1="894.00" x2="327.50" y2="896.00" stroke="#3a3a3a" stroke-width="1.1"/>
<text x="327.25" y="905.40" font-size="10.2" text-anchor="middle">1</text>
<text x="190.00" y="924.85" font-size="9.35" text-anchor="middle">200 permutations 1 components</text>
<line x1="40.00" y1="709.50" x2="341.75" y2="708.75" stroke="#2a2a2a" stroke-width="1.05" stroke-dasharray="3.0,2.5"/>
<line x1="40.00" y1="793.75" x2="341.75" y2="741.25" stroke="#2a2a2a" stroke-width="1.05" stroke-dasharray="3.0,2.5"/>
<circle cx="358.00" cy="793.10" r="2.3" fill="#0b940b" stroke="#1e2e1e" stroke-width="0.55"/>
<rect x="355.80" y="802.10" width="4.4" height="4.4" fill="#0a0ad0"/>
<text x="363.00" y="795.93" font-size="7.9" text-anchor="start" style="font-style:italic;stroke-width:0">Q<tspan font-size="5" dy="-2.9" style="stroke-width:0">2</tspan></text>
<text x="363.00" y="807.13" font-size="7.9" text-anchor="start" style="font-style:italic;stroke-width:0">R<tspan font-size="5" dy="-2.9" style="stroke-width:0">2</tspan></text>
<text x="0.00" y="722.20" font-size="23" text-anchor="start">G</text>
<line x1="445.50" y1="700.50" x2="445.50" y2="896.00" stroke="#8a8a8a" stroke-width="1.1"/>
<circle cx="445.75" cy="732.50" r="2.3" fill="#0b940b" stroke="#1e2e1e" stroke-width="0.55"/>
<circle cx="445.75" cy="735.58" r="2.3" fill="#0b940b" stroke="#1e2e1e" stroke-width="0.55"/>
<circle cx="445.75" cy="738.67" r="2.3" fill="#0b940b" stroke="#1e2e1e" stroke-width="0.55"/>
<circle cx="445.75" cy="741.75" r="2.3" fill="#0b940b" stroke="#1e2e1e" stroke-width="0.55"/>
<circle cx="445.75" cy="744.83" r="2.3" fill="#0b940b" stroke="#1e2e1e" stroke-width="0.55"/>
<circle cx="445.75" cy="747.92" r="2.3" fill="#0b940b" stroke="#1e2e1e" stroke-width="0.55"/>
<circle cx="445.75" cy="751.00" r="2.3" fill="#0b940b" stroke="#1e2e1e" stroke-width="0.55"/>
<circle cx="445.75" cy="756.00" r="2.3" fill="#0b940b" stroke="#1e2e1e" stroke-width="0.55"/>
<circle cx="445.75" cy="759.33" r="2.3" fill="#0b940b" stroke="#1e2e1e" stroke-width="0.55"/>
<circle cx="445.75" cy="762.67" r="2.3" fill="#0b940b" stroke="#1e2e1e" stroke-width="0.55"/>
<circle cx="445.75" cy="766.00" r="2.3" fill="#0b940b" stroke="#1e2e1e" stroke-width="0.55"/>
<circle cx="445.75" cy="770.00" r="2.3" fill="#0b940b" stroke="#1e2e1e" stroke-width="0.55"/>
<circle cx="445.75" cy="772.91" r="2.3" fill="#0b940b" stroke="#1e2e1e" stroke-width="0.55"/>
<circle cx="445.75" cy="775.82" r="2.3" fill="#0b940b" stroke="#1e2e1e" stroke-width="0.55"/>
<circle cx="445.75" cy="778.73" r="2.3" fill="#0b940b" stroke="#1e2e1e" stroke-width="0.55"/>
<circle cx="445.75" cy="781.64" r="2.3" fill="#0b940b" stroke="#1e2e1e" stroke-width="0.55"/>
<circle cx="445.75" cy="784.55" r="2.3" fill="#0b940b" stroke="#1e2e1e" stroke-width="0.55"/>
<circle cx="445.75" cy="787.45" r="2.3" fill="#0b940b" stroke="#1e2e1e" stroke-width="0.55"/>
<circle cx="445.75" cy="790.36" r="2.3" fill="#0b940b" stroke="#1e2e1e" stroke-width="0.55"/>
<circle cx="445.75" cy="793.27" r="2.3" fill="#0b940b" stroke="#1e2e1e" stroke-width="0.55"/>
<circle cx="445.75" cy="796.18" r="2.3" fill="#0b940b" stroke="#1e2e1e" stroke-width="0.55"/>
<circle cx="445.75" cy="799.09" r="2.3" fill="#0b940b" stroke="#1e2e1e" stroke-width="0.55"/>
<circle cx="445.75" cy="802.00" r="2.3" fill="#0b940b" stroke="#1e2e1e" stroke-width="0.55"/>
<circle cx="445.75" cy="808.00" r="2.3" fill="#0b940b" stroke="#1e2e1e" stroke-width="0.55"/>
<circle cx="445.75" cy="811.14" r="2.3" fill="#0b940b" stroke="#1e2e1e" stroke-width="0.55"/>
<circle cx="445.75" cy="814.29" r="2.3" fill="#0b940b" stroke="#1e2e1e" stroke-width="0.55"/>
<circle cx="445.75" cy="817.43" r="2.3" fill="#0b940b" stroke="#1e2e1e" stroke-width="0.55"/>
<circle cx="445.75" cy="820.57" r="2.3" fill="#0b940b" stroke="#1e2e1e" stroke-width="0.55"/>
<circle cx="445.75" cy="823.71" r="2.3" fill="#0b940b" stroke="#1e2e1e" stroke-width="0.55"/>
<circle cx="445.75" cy="826.86" r="2.3" fill="#0b940b" stroke="#1e2e1e" stroke-width="0.55"/>
<circle cx="445.75" cy="830.00" r="2.3" fill="#0b940b" stroke="#1e2e1e" stroke-width="0.55"/>
<circle cx="445.75" cy="834.00" r="2.3" fill="#0b940b" stroke="#1e2e1e" stroke-width="0.55"/>
<circle cx="445.75" cy="836.67" r="2.3" fill="#0b940b" stroke="#1e2e1e" stroke-width="0.55"/>
<circle cx="445.75" cy="839.33" r="2.3" fill="#0b940b" stroke="#1e2e1e" stroke-width="0.55"/>
<circle cx="445.75" cy="842.00" r="2.3" fill="#0b940b" stroke="#1e2e1e" stroke-width="0.55"/>
<circle cx="445.75" cy="847.10" r="2.3" fill="#0b940b" stroke="#1e2e1e" stroke-width="0.55"/>
<circle cx="445.75" cy="852.50" r="2.3" fill="#0b940b" stroke="#1e2e1e" stroke-width="0.55"/>
<circle cx="445.75" cy="859.50" r="2.3" fill="#0b940b" stroke="#1e2e1e" stroke-width="0.55"/>
<circle cx="445.75" cy="884.80" r="2.3" fill="#0b940b" stroke="#1e2e1e" stroke-width="0.55"/>
<circle cx="538.20" cy="732.10" r="2.3" fill="#0b940b" stroke="#1e2e1e" stroke-width="0.55"/>
<circle cx="538.20" cy="739.30" r="2.3" fill="#0b940b" stroke="#1e2e1e" stroke-width="0.55"/>
<circle cx="538.20" cy="741.50" r="2.3" fill="#0b940b" stroke="#1e2e1e" stroke-width="0.55"/>
<circle cx="538.20" cy="743.60" r="2.3" fill="#0b940b" stroke="#1e2e1e" stroke-width="0.55"/>
<circle cx="538.20" cy="750.60" r="2.3" fill="#0b940b" stroke="#1e2e1e" stroke-width="0.55"/>
<circle cx="538.20" cy="753.30" r="2.3" fill="#0b940b" stroke="#1e2e1e" stroke-width="0.55"/>
<circle cx="538.20" cy="756.15" r="2.3" fill="#0b940b" stroke="#1e2e1e" stroke-width="0.55"/>
<circle cx="538.20" cy="759.00" r="2.3" fill="#0b940b" stroke="#1e2e1e" stroke-width="0.55"/>
<circle cx="538.20" cy="761.85" r="2.3" fill="#0b940b" stroke="#1e2e1e" stroke-width="0.55"/>
<circle cx="538.20" cy="764.70" r="2.3" fill="#0b940b" stroke="#1e2e1e" stroke-width="0.55"/>
<circle cx="538.20" cy="769.50" r="2.3" fill="#0b940b" stroke="#1e2e1e" stroke-width="0.55"/>
<circle cx="538.20" cy="772.47" r="2.3" fill="#0b940b" stroke="#1e2e1e" stroke-width="0.55"/>
<circle cx="538.20" cy="775.44" r="2.3" fill="#0b940b" stroke="#1e2e1e" stroke-width="0.55"/>
<circle cx="538.20" cy="778.41" r="2.3" fill="#0b940b" stroke="#1e2e1e" stroke-width="0.55"/>
<circle cx="538.20" cy="781.38" r="2.3" fill="#0b940b" stroke="#1e2e1e" stroke-width="0.55"/>
<circle cx="538.20" cy="784.34" r="2.3" fill="#0b940b" stroke="#1e2e1e" stroke-width="0.55"/>
<circle cx="538.20" cy="787.31" r="2.3" fill="#0b940b" stroke="#1e2e1e" stroke-width="0.55"/>
<circle cx="538.20" cy="790.28" r="2.3" fill="#0b940b" stroke="#1e2e1e" stroke-width="0.55"/>
<circle cx="538.20" cy="793.25" r="2.3" fill="#0b940b" stroke="#1e2e1e" stroke-width="0.55"/>
<circle cx="538.20" cy="796.22" r="2.3" fill="#0b940b" stroke="#1e2e1e" stroke-width="0.55"/>
<circle cx="538.20" cy="799.19" r="2.3" fill="#0b940b" stroke="#1e2e1e" stroke-width="0.55"/>
<circle cx="538.20" cy="802.16" r="2.3" fill="#0b940b" stroke="#1e2e1e" stroke-width="0.55"/>
<circle cx="538.20" cy="805.12" r="2.3" fill="#0b940b" stroke="#1e2e1e" stroke-width="0.55"/>
<circle cx="538.20" cy="808.09" r="2.3" fill="#0b940b" stroke="#1e2e1e" stroke-width="0.55"/>
<circle cx="538.20" cy="811.06" r="2.3" fill="#0b940b" stroke="#1e2e1e" stroke-width="0.55"/>
<circle cx="538.20" cy="814.03" r="2.3" fill="#0b940b" stroke="#1e2e1e" stroke-width="0.55"/>
<circle cx="538.20" cy="817.00" r="2.3" fill="#0b940b" stroke="#1e2e1e" stroke-width="0.55"/>
<circle cx="538.20" cy="821.80" r="2.3" fill="#0b940b" stroke="#1e2e1e" stroke-width="0.55"/>
<circle cx="538.20" cy="824.82" r="2.3" fill="#0b940b" stroke="#1e2e1e" stroke-width="0.55"/>
<circle cx="538.20" cy="827.85" r="2.3" fill="#0b940b" stroke="#1e2e1e" stroke-width="0.55"/>
<circle cx="538.20" cy="830.88" r="2.3" fill="#0b940b" stroke="#1e2e1e" stroke-width="0.55"/>
<circle cx="538.20" cy="833.90" r="2.3" fill="#0b940b" stroke="#1e2e1e" stroke-width="0.55"/>
<circle cx="538.20" cy="836.92" r="2.3" fill="#0b940b" stroke="#1e2e1e" stroke-width="0.55"/>
<circle cx="538.20" cy="839.95" r="2.3" fill="#0b940b" stroke="#1e2e1e" stroke-width="0.55"/>
<circle cx="538.20" cy="842.98" r="2.3" fill="#0b940b" stroke="#1e2e1e" stroke-width="0.55"/>
<circle cx="538.20" cy="846.00" r="2.3" fill="#0b940b" stroke="#1e2e1e" stroke-width="0.55"/>
<circle cx="538.20" cy="855.70" r="2.3" fill="#0b940b" stroke="#1e2e1e" stroke-width="0.55"/>
<circle cx="630.50" cy="751.75" r="2.3" fill="#0b940b" stroke="#1e2e1e" stroke-width="0.55"/>
<circle cx="630.50" cy="753.75" r="2.3" fill="#0b940b" stroke="#1e2e1e" stroke-width="0.55"/>
<circle cx="630.50" cy="756.25" r="2.3" fill="#0b940b" stroke="#1e2e1e" stroke-width="0.55"/>
<circle cx="630.50" cy="758.00" r="2.3" fill="#0b940b" stroke="#1e2e1e" stroke-width="0.55"/>
<circle cx="630.50" cy="765.00" r="2.3" fill="#0b940b" stroke="#1e2e1e" stroke-width="0.55"/>
<circle cx="630.50" cy="767.50" r="2.3" fill="#0b940b" stroke="#1e2e1e" stroke-width="0.55"/>
<circle cx="630.50" cy="769.50" r="2.3" fill="#0b940b" stroke="#1e2e1e" stroke-width="0.55"/>
<circle cx="630.50" cy="771.75" r="2.3" fill="#0b940b" stroke="#1e2e1e" stroke-width="0.55"/>
<circle cx="630.50" cy="774.25" r="2.3" fill="#0b940b" stroke="#1e2e1e" stroke-width="0.55"/>
<circle cx="630.50" cy="782.00" r="2.3" fill="#0b940b" stroke="#1e2e1e" stroke-width="0.55"/>
<circle cx="630.50" cy="784.50" r="2.3" fill="#0b940b" stroke="#1e2e1e" stroke-width="0.55"/>
<circle cx="630.50" cy="787.50" r="2.3" fill="#0b940b" stroke="#1e2e1e" stroke-width="0.55"/>
<circle cx="630.50" cy="808.50" r="2.3" fill="#0b940b" stroke="#1e2e1e" stroke-width="0.55"/>
<circle cx="630.50" cy="817.25" r="2.3" fill="#0b940b" stroke="#1e2e1e" stroke-width="0.55"/>
<circle cx="630.50" cy="838.00" r="2.3" fill="#0b940b" stroke="#1e2e1e" stroke-width="0.55"/>
<circle cx="630.50" cy="842.25" r="2.3" fill="#0b940b" stroke="#1e2e1e" stroke-width="0.55"/>
<circle cx="723.00" cy="768.25" r="2.3" fill="#0b940b" stroke="#1e2e1e" stroke-width="0.55"/>
<rect x="443.60" y="707.15" width="4.3" height="4.3" fill="#0a0ad0" stroke="#14143c" stroke-width="0.55"/>
<rect x="443.60" y="709.85" width="4.3" height="4.3" fill="#0a0ad0" stroke="#14143c" stroke-width="0.55"/>
<rect x="536.05" y="707.15" width="4.3" height="4.3" fill="#0a0ad0" stroke="#14143c" stroke-width="0.55"/>
<rect x="536.05" y="709.85" width="4.3" height="4.3" fill="#0a0ad0" stroke="#14143c" stroke-width="0.55"/>
<rect x="628.35" y="707.35" width="4.3" height="4.3" fill="#0a0ad0" stroke="#14143c" stroke-width="0.55"/>
<rect x="720.85" y="707.10" width="4.3" height="4.3" fill="#0a0ad0" stroke="#14143c" stroke-width="0.55"/>
<line x1="432.75" y1="803.50" x2="737.00" y2="803.50" stroke="#2a2a2a" stroke-width="1.1"/>
<line x1="432.50" y1="700.50" x2="432.50" y2="894.60" stroke="#3a3a3a" stroke-width="1.1"/>
<line x1="432.15" y1="894.50" x2="737.00" y2="894.50" stroke="#3a3a3a" stroke-width="1.1"/>
<line x1="430.75" y1="708.50" x2="432.75" y2="708.50" stroke="#3a3a3a" stroke-width="1.1"/>
<text x="429.50" y="712.40" font-size="10.2" text-anchor="end">1</text>
<line x1="430.75" y1="756.50" x2="432.75" y2="756.50" stroke="#3a3a3a" stroke-width="1.1"/>
<text x="429.50" y="759.90" font-size="10.2" text-anchor="end">0.5</text>
<line x1="430.75" y1="803.50" x2="432.75" y2="803.50" stroke="#3a3a3a" stroke-width="1.1"/>
<text x="429.50" y="807.40" font-size="10.2" text-anchor="end">0</text>
<line x1="430.75" y1="851.50" x2="432.75" y2="851.50" stroke="#3a3a3a" stroke-width="1.1"/>
<text x="429.50" y="855.15" font-size="10.2" text-anchor="end">−0.5</text>
<line x1="445.50" y1="894.00" x2="445.50" y2="896.00" stroke="#3a3a3a" stroke-width="1.1"/>
<text x="445.25" y="905.40" font-size="10.2" text-anchor="middle">0</text>
<line x1="515.50" y1="894.00" x2="515.50" y2="896.00" stroke="#3a3a3a" stroke-width="1.1"/>
<text x="514.75" y="905.40" font-size="10.2" text-anchor="middle">0.25</text>
<line x1="584.50" y1="894.00" x2="584.50" y2="896.00" stroke="#3a3a3a" stroke-width="1.1"/>
<text x="584.00" y="905.40" font-size="10.2" text-anchor="middle">0.5</text>
<line x1="653.50" y1="894.00" x2="653.50" y2="896.00" stroke="#3a3a3a" stroke-width="1.1"/>
<text x="653.00" y="905.40" font-size="10.2" text-anchor="middle">0.75</text>
<line x1="723.50" y1="894.00" x2="723.50" y2="896.00" stroke="#3a3a3a" stroke-width="1.1"/>
<text x="722.50" y="905.40" font-size="10.2" text-anchor="middle">1</text>
<text x="584.60" y="920.10" font-size="9.35" text-anchor="middle">200 permutations 1 components</text>
<line x1="432.00" y1="710.00" x2="737.00" y2="709.25" stroke="#2a2a2a" stroke-width="1.05" stroke-dasharray="3.0,2.5"/>
<line x1="432.00" y1="795.00" x2="737.00" y2="766.75" stroke="#2a2a2a" stroke-width="1.05" stroke-dasharray="3.0,2.5"/>
<circle cx="753.00" cy="793.10" r="2.3" fill="#0b940b" stroke="#1e2e1e" stroke-width="0.55"/>
<rect x="750.80" y="802.10" width="4.4" height="4.4" fill="#0a0ad0"/>
<text x="759.00" y="795.93" font-size="7.9" text-anchor="start" style="font-style:italic;stroke-width:0">Q<tspan font-size="5" dy="-2.9" style="stroke-width:0">2</tspan></text>
<text x="759.00" y="807.13" font-size="7.9" text-anchor="start" style="font-style:italic;stroke-width:0">R<tspan font-size="5" dy="-2.9" style="stroke-width:0">2</tspan></text>
<text x="385.40" y="722.60" font-size="23" text-anchor="start">H</text>
</svg>
</body></html>
